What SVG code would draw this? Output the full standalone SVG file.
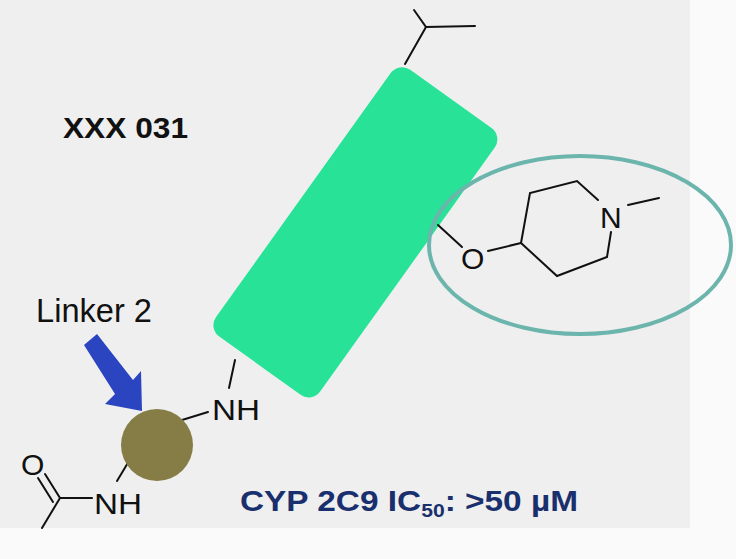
<svg xmlns="http://www.w3.org/2000/svg" width="736" height="559" viewBox="0 0 736 559">
<style>
.b{stroke:#111;stroke-width:2;fill:none;stroke-linecap:round}
.t{font-family:"Liberation Sans",Arial,sans-serif;fill:#111}
</style>
<rect width="736" height="559" fill="#fafafa"/>
<rect width="690" height="528" fill="#efefef"/>
<g id="core"><rect x="291.5" y="68" width="128" height="328" rx="14" fill="#27e297" transform="rotate(35.6 355 232)"/></g>
<g id="bonds">
<polyline class="b" points="414,10 426,27 475,26"/><line class="b" x1="426" y1="27" x2="405" y2="64"/>
<line class="b" x1="438" y1="225" x2="462" y2="247"/>
<line class="b" x1="488" y1="251" x2="521" y2="243"/>
<polyline class="b" points="521,243 530,193 577,181 598,200"/>
<polyline class="b" points="611,232 607,257 557,276 521,243"/>
<line class="b" x1="628" y1="205" x2="659" y2="198"/>
<line class="b" x1="235" y1="360" x2="229" y2="388"/>
<line class="b" x1="182" y1="420" x2="208" y2="412"/>
<line class="b" x1="132" y1="456" x2="117" y2="481"/>
<line class="b" x1="60" y1="498" x2="92" y2="498"/>
<line class="b" x1="60" y1="498" x2="42" y2="528"/>
<line class="b" x1="60" y1="498" x2="45" y2="474"/><line class="b" x1="53" y1="502" x2="38" y2="478"/>
</g>
<g id="ring"><ellipse cx="580" cy="245" rx="151" ry="89" fill="none" stroke="#6bb5ad" stroke-width="4"/></g>
<g id="linker"><circle cx="157" cy="445" r="36" fill="#857d45"/></g>
<g id="arrow"><polygon points="84,345 97,334 133,380 141,371 142,411 105,404 115,394" fill="#2b45c0"/></g>
<text class="t" x="63" y="138" font-size="30" font-weight="bold" textLength="125" lengthAdjust="spacingAndGlyphs">XXX 031</text>
<text class="t" x="36" y="322" font-size="33" textLength="116" lengthAdjust="spacingAndGlyphs">Linker 2</text>
<text class="t" x="212" y="420" font-size="30" textLength="48" lengthAdjust="spacingAndGlyphs">NH</text>
<text class="t" x="94" y="514" font-size="30" textLength="48" lengthAdjust="spacingAndGlyphs">NH</text>
<text class="t" x="21" y="475" font-size="30">O</text>
<text class="t" x="461" y="269" font-size="30">O</text>
<text class="t" x="600" y="228" font-size="30">N</text>
<text x="240" y="511" font-size="30" font-weight="bold" font-family="Liberation Sans,Arial,sans-serif" fill="#1a2f6e" textLength="338" lengthAdjust="spacingAndGlyphs">CYP 2C9 IC<tspan font-size="19" dy="6">50</tspan><tspan dy="-6">: &gt;50 µM</tspan></text>
</svg>
